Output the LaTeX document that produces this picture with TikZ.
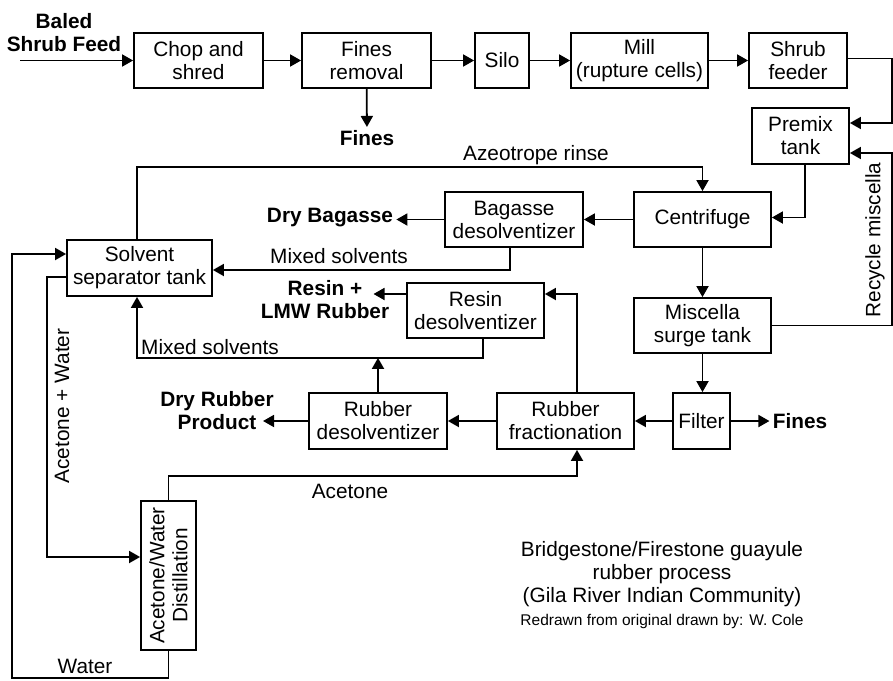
\documentclass[tikz,border=0pt]{standalone}
\usepackage{fontspec}
\setmainfont{Liberation Sans}
\usetikzlibrary{arrows.meta,calc}
\newcommand\dgfont{\fontsize{10.4}{11.5}\selectfont}
\tikzset{
  box/.style={draw, line width=0.9pt, align=center, inner sep=0pt, minimum height=27.5pt, font=\dgfont},
  flow/.style={-{Triangle[length=5.5pt,width=6pt]}, line width=0.9pt},
  outtxt/.style={align=center, inner sep=1.5pt, font=\dgfont\bfseries},
  flowtxt/.style={align=center, inner sep=1pt, font=\dgfont}
}

\begin{document}
\begin{tikzpicture}[x=0.5pt,y=-0.5pt]
        \useasboundingbox (0,0) rectangle (893,680);
        \node[box, minimum width=64.5pt] (chop) at (198.5,60.5) {Chop and\\shred};
        \node[box, minimum width=64.5pt] (finesrm) at (366.5,60.5) {Fines\\removal};
        \node[box, minimum width=27pt] (silo) at (502,60.5) {Silo};
        \node[box, minimum width=68.5pt] (mill) at (639.5,60.5) {Mill\\(rupture cells)};
        \node[box, minimum width=49pt] (feeder) at (798,60.5) {Shrub\\feeder};
        \node[box, minimum width=48.5pt, minimum height=28pt] (premix) at (800.5,136) {Premix\\tank};
        \node[box, minimum width=68.5pt] (centrifuge) at (702.5,219.5) {Centrifuge};
        \node[box, minimum width=69pt] (bagdesolv) at (514,219.5) {Bagasse\\desolventizer};
        \node[box, minimum width=72.5pt, minimum height=28pt] (separator) at (139.5,268) {Solvent\\separator tank};
        \node[box, minimum width=68.5pt] (resindesolv) at (475.5,310.5) {Resin\\desolventizer};
        \node[box, minimum width=68.5pt] (surge) at (702.5,325.5) {Miscella\\surge tank};
        \node[box, minimum width=69pt, minimum height=28pt] (rubdesolv) at (378,421) {Rubber\\desolventizer};
        \node[box, minimum width=68.5pt, minimum height=28pt] (fraction) at (565.5,421) {Rubber\\fractionation};
        \node[box, minimum width=28.5pt, minimum height=28pt] (filter) at (701.5,421) {Filter};
        \node[box, rotate=90, minimum width=74.5pt, minimum height=27.5pt] (distill) at (168.5,575.5) {Acetone/Water\\Distillation};

        \node[outtxt] (feedlbl) at (64,33) {Baled\\Shrub Feed};
        \node[outtxt] (fines1) at (367,138) {Fines};
        \node[outtxt] (drybag) at (330,218) {Dry Bagasse};
        \node[outtxt] (resinlbl) at (325,300) {Resin +\\LMW Rubber};
        \node[outtxt] (dryrub) at (217,411) {Dry Rubber\\Product};
        \node[outtxt] (fines2) at (800,421) {Fines};

        \node[flowtxt] (azlbl) at (536,155) {Azeotrope rinse};
        \node[flowtxt] (mix1) at (339,256) {Mixed solvents};
        \node[flowtxt] (mix2) at (210,347) {Mixed solvents};
        \node[flowtxt] (acelbl) at (350,491) {Acetone};
        \node[flowtxt] (waterlbl) at (85,666) {Water};
        \node[flowtxt, rotate=90] (recylbl) at (875,240) {Recycle miscella};
        \node[flowtxt, rotate=90] (acwlbl) at (62,406) {Acetone + Water};
        \node[flowtxt] (caption) at (662,585) {Bridgestone/Firestone guayule\\rubber process\\(Gila River Indian Community)\\{\fontsize{7.75}{9}\selectfont Redrawn from original drawn by: W. Cole}};

        \coordinate (feedin) at (20,60.5);
        \coordinate (mixjoin) at ($(separator.south)+(0,61)$);
        \coordinate (watercorner) at (12,678);

        \draw[flow] (feedin) -- (chop);
        \draw[flow] (chop) -- (finesrm);
        \draw[flow] (finesrm) -- (silo);
        \draw[flow] (silo) -- (mill);
        \draw[flow] (mill) -- (feeder);
        \draw[flow] (finesrm) -- (fines1);
        \draw[flow] ($(feeder.east)+(0,-2)$) -| ($(premix.east)+(42,-13)$) -- ($(premix.east)+(0,-13)$);
        \draw[flow] ($(premix.south)+(4.5,0)$) |- ($(centrifuge.east)+(0,-2)$);
        \draw[flow] (centrifuge) -- (bagdesolv);
        \draw[flow] (bagdesolv.west) -- (drybag.east |- bagdesolv.west);
        \draw[flow] ($(bagdesolv.south)+(-4,0)$) |- ($(separator.east)+(0,2)$);
        \draw[flow] ($(separator.north)+(-2.5,0)$) |- ($(centrifuge.north)+(0,-24)$) -- (centrifuge.north);
        \draw[flow] (centrifuge) -- (surge);
        \draw[flow] (surge.south) -- (surge.south |- filter.north);
        \draw[flow] (surge.east) -| ($(premix.east)+(42,17)$) -- ($(premix.east)+(0,17)$);
        \draw[flow] (filter) -- (fraction);
        \draw[flow] (filter) -- (fines2);
        \draw[flow] (fraction) -- (rubdesolv);
        \draw[flow] (rubdesolv.west) -- ($(dryrub.east)+(-14,10)$);
        \draw[flow] ($(fraction.north)+(11.5,0)$) |- ($(resindesolv.east)+(0,-16.5)$);
        \draw[flow] ($(resindesolv.west)+(0,-16.5)$) -- ($(resinlbl.east)+(-19,-6)$);
        \draw[flow] ($(resindesolv.south)+(7.5,0)$) |- ($(mixjoin)+(-2.5,0)$) -- ($(separator.south)+(-2.5,0)$);
        \draw[flow] (rubdesolv.north) -- (rubdesolv.north |- mixjoin);
        \draw[flow] (distill.east) -- ++(0,-24) -| ($(fraction.south)+(11.5,0)$);
        \draw[flow] ($(separator.west)+(0,9)$) -- ++(-19,0) |- ($(distill.north)+(0,-18.5)$);
        \draw[flow] (distill.west) |- (watercorner) |- ($(separator.west)+(0,-14)$);
      \end{tikzpicture}
\end{document}
